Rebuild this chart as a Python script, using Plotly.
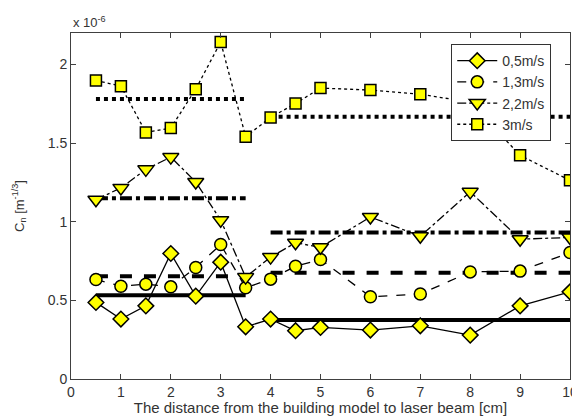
import plotly.graph_objects as go

x = [0.5, 1, 1.5, 2, 2.5, 3, 3.5, 4, 4.5, 5, 6, 7, 8, 9, 10]

v05 = [0.487, 0.381, 0.465, 0.798, 0.527, 0.743, 0.332, 0.381, 0.307, 0.328, 0.311, 0.338, 0.279, 0.465, 0.554]
v13 = [0.633, 0.590, 0.603, 0.586, 0.709, 0.855, 0.580, 0.635, 0.717, 0.760, 0.523, 0.540, 0.681, 0.686, 0.804]
v22 = [1.140, 1.215, 1.333, 1.411, 1.253, 1.010, 0.648, 0.775, 0.866, 0.838, 1.030, 0.908, 1.190, 0.889, 0.900]
v3 = [1.898, 1.862, 1.568, 1.596, 1.843, 2.143, 1.541, 1.663, 1.752, 1.850, 1.837, 1.811, 1.760, 1.422, 1.263]

# mean lines: segment x-ranges and their levels
seg1 = [0.5, 3.5]
seg2 = [4, 10]
mean05 = [0.533, 0.375]
mean13 = [0.654, 0.675]
mean22 = [1.149, 0.932]
mean3 = [1.780, 1.668]

names = ["0,5m/s", "1,3m/s", "2,2m/s", "3m/s"]
series = [v05, v13, v22, v3]
means = [mean05, mean13, mean22, mean3]
dashes = ["solid", "dash", "dashdot", "dot"]
symbols = ["diamond", "circle", "triangle-down", "square"]
sizes = [12, 12, 14, 11]

xticks = [0, 1, 2, 3, 4, 5, 6, 7, 8, 9, 10]
yticks = [0, 0.5, 1, 1.5, 2]
yticklabels = ["0", "0.5", "1", "1.5", "2"]

fig = go.Figure()

# mean lines first (under markers)
for m, d in zip(means, dashes):
    for seg, val in zip([seg1, seg2], m):
        fig.add_trace(go.Scatter(
            x=seg, y=[val, val], mode="lines",
            line=dict(color="black", width=4, dash=d),
            showlegend=False, hoverinfo="skip"))

for nm, s, d, sym, sz in zip(names, series, dashes, symbols, sizes):
    fig.add_trace(go.Scatter(
        x=x, y=s, name=nm, mode="lines+markers",
        line=dict(color="black", width=1.3, dash=d),
        marker=dict(symbol=sym, size=sz, color="#ffff00",
                    line=dict(color="black", width=1.5))))

axis_common = dict(
    showgrid=False, zeroline=False, showline=True, linecolor="#404040",
    linewidth=1, mirror="ticks", ticks="inside", ticklen=5,
    tickcolor="#404040", tickfont=dict(size=14, color="#333333"),
    ticklabeloverflow="allow", automargin=False,
)

fig.update_layout(
    width=572, height=416,
    margin=dict(l=71, r=2, t=33, b=37),
    paper_bgcolor="white", plot_bgcolor="white",
    font=dict(family="Liberation Sans, Arial, sans-serif", color="#333333"),
    xaxis=dict(range=[0, 10], tickvals=xticks, **axis_common,
               title=dict(text="The distance from the building model to laser beam [cm]",
                          font=dict(size=15), standoff=0)),
    yaxis=dict(range=[0, 2.2], tickvals=yticks, ticktext=yticklabels,
               **axis_common,
               title=dict(text="C<sub>n</sub> [m<sup>-1/3</sup>]",
                          font=dict(size=13), standoff=20)),
    legend=dict(x=0.762, y=0.968, xanchor="left", yanchor="top",
                bgcolor="white", bordercolor="#333333", borderwidth=1,
                font=dict(size=14, color="#333333"), tracegroupgap=0,
                itemwidth=40),
    annotations=[dict(text="x 10<sup>-6</sup>", xref="paper", yref="paper",
                      x=0, y=1, xanchor="left", yanchor="bottom",
                      showarrow=False, font=dict(size=13, color="#333333"),
                      yshift=1)],
)

fig.write_html("out.html", config={"displayModeBar": False},
               post_script="document.body.style.margin='0';")
